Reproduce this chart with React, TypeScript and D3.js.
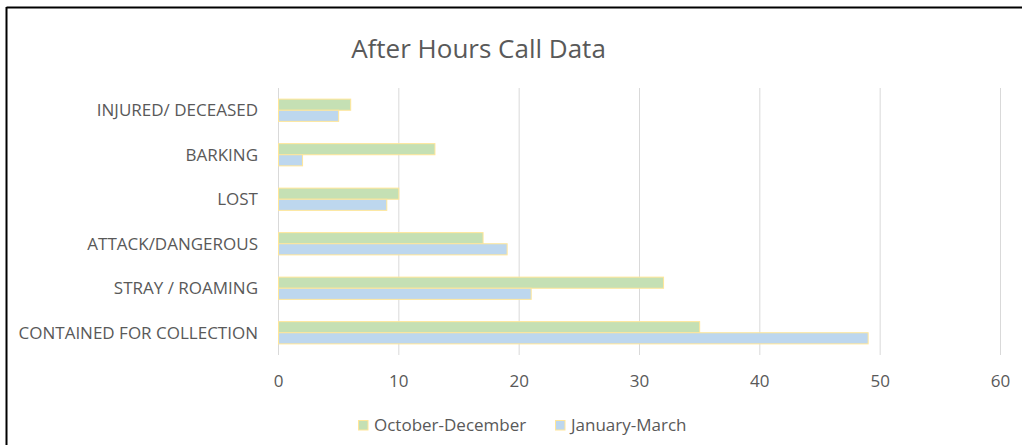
import React from "react";
import * as d3 from "d3";

const categories = [
  "INJURED/ DECEASED",
  "BARKING",
  "LOST",
  "ATTACK/DANGEROUS",
  "STRAY / ROAMING",
  "CONTAINED FOR COLLECTION",
];
const octDec = [6, 13, 10, 17, 32, 35];
const janMar = [5, 2, 9, 19, 21, 49];
const seriesNames = ["October-December", "January-March"];
const xTicks = [0, 10, 20, 30, 40, 50, 60];

const W = 1022;
const H = 445;
const FONT = "Open Sans, Noto Sans, sans-serif";
const TEXT = "#595959";
const colors = ["#C5E0B4", "#BDD7EE"];
const stroke = "#FFE699";

export default function App() {
  const x = d3.scaleLinear().domain([0, 60]).range([278.5, 1000.5]);
  const y = d3.scaleBand<string>().domain(categories).range([88, 355]).paddingInner(0.5).paddingOuter(0.25);
  const sub = d3.scaleBand<number>().domain([0, 1]).range([0, y.bandwidth()]);
  const series = [octDec, janMar];

  return (
    <svg
      width={W}
      height={H}
      style={{ position: "absolute", left: 0, top: 0, background: "#fff" }}
      fontFamily={FONT}
    >
      <rect x={0} y={0} width={W} height={H} fill="#fff" />
      {/* border */}
      <line x1={6.5} y1={7.5} x2={W} y2={7.5} stroke="#000" strokeWidth={2} />
      <line x1={6.5} y1={7} x2={6.5} y2={H} stroke="#000" strokeWidth={2} />

      <text x={478.5} y={58} textAnchor="middle" fontSize={26} fill={TEXT}>
        After Hours Call Data
      </text>

      {xTicks.map((t) => (
        <g key={t}>
          <line x1={x(t)} x2={x(t)} y1={88} y2={355} stroke="#D9D9D9" strokeWidth={1} />
          <text x={x(t)} y={387} textAnchor="middle" fontSize={17} fill={TEXT}>
            {t}
          </text>
        </g>
      ))}

      {categories.map((c, i) => (
        <g key={c}>
          <text x={258} y={(y(c) as number) + y.bandwidth() / 2 + 6} textAnchor="end" fontSize={17} fill={TEXT}>
            {c}
          </text>
          {series.map((s, j) => (
            <rect
              key={j}
              x={x(0)}
              y={(y(c) as number) + (sub(j) as number)}
              width={x(s[i]) - x(0)}
              height={sub.bandwidth()}
              fill={colors[j]}
              stroke={stroke}
              strokeWidth={1}
            />
          ))}
        </g>
      ))}

      {/* legend */}
      {seriesNames.map((n, j) => {
        const lx = j === 0 ? 358 : 555;
        return (
          <g key={n}>
            <rect x={lx + 0.5} y={420.5} width={9.5} height={9.5} fill={colors[j]} stroke={stroke} strokeWidth={1} />
            <text x={lx + 16} y={431} fontSize={17} fill={TEXT}>
              {n}
            </text>
          </g>
        );
      })}
    </svg>
  );
}
